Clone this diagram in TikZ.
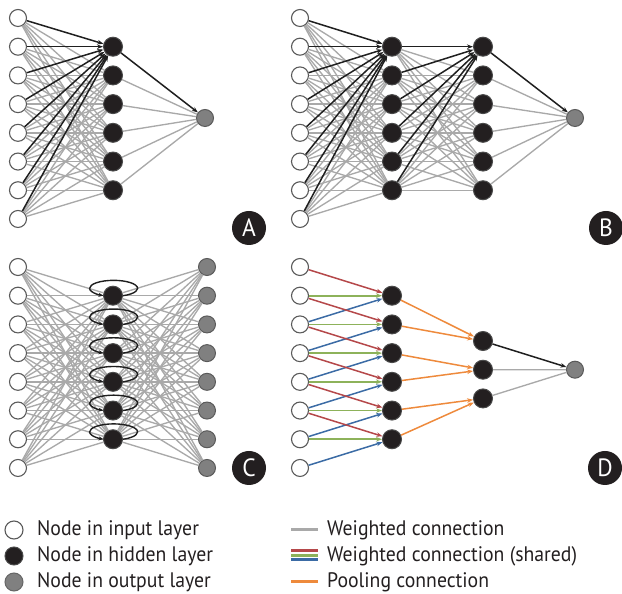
\documentclass[tikz,border=0pt]{standalone}
\usepackage{fontspec}
\setmainfont{PT Sans}[FakeStretch=0.94]
\usetikzlibrary{arrows.meta,calc}
\definecolor{nodegray}{HTML}{5A5A5A}
\definecolor{hidfill}{HTML}{231F20}
\definecolor{hidborder}{HTML}{4A4A4A}
\definecolor{outfill}{HTML}{808080}
\definecolor{conngray}{HTML}{A9A9A9}
\definecolor{cred}{HTML}{B5484A}
\definecolor{cgreen}{HTML}{8DB25A}
\definecolor{cblue}{HTML}{3B6BA5}
\definecolor{corange}{HTML}{EE8A3C}
\definecolor{txt}{HTML}{231F20}
\begin{document}
\begin{tikzpicture}[x=1pt,y=1pt,
  inp/.style={circle,draw=nodegray,fill=white,line width=1.1pt,minimum size=17pt,inner sep=0pt},
  hid/.style={circle,draw=hidborder,fill=hidfill,line width=1pt,minimum size=19pt,inner sep=0pt},
  outn/.style={circle,draw=nodegray,fill=outfill,line width=1pt,minimum size=17pt,inner sep=0pt},
  conn/.style={draw=conngray,line width=1.35pt},
  bconn/.style={draw=black!88,line width=1.5pt,-{Stealth[length=6pt,width=4.5pt]}},
  tip/.style={-{Stealth[length=6pt,width=4.5pt]}},
  lab/.style={circle,fill=hidfill,text=white,minimum size=34pt,inner sep=0pt,font=\fontsize{25}{25}\selectfont},
  loopst/.style={draw=black!88,line width=1.4pt,-{Stealth[length=5pt,width=4pt]}},
  legtext/.style={anchor=west,text=txt,font=\fontsize{21}{21}\selectfont,inner sep=0pt},
  legline/.style={line width=3pt}
]
\useasboundingbox (0,0) rectangle (622,594);
% ---------------- Panel A
\foreach \i in {0,...,7} \node[inp] (a-in-\i) at (18,{576-28.71*\i}) {};
\foreach \j in {1,...,6} \node[hid] (a-h-\j) at (113,{576-28.71*\j}) {};
\node[outn] (a-o) at (205,476) {};
\foreach \i in {0,...,7} \foreach \j in {2,...,6} \draw[conn] (a-in-\i) -- (a-h-\j);
\foreach \j in {2,...,6} \draw[conn] (a-h-\j) -- (a-o);
\foreach \i in {0,...,7} \draw[bconn] (a-in-\i) -- (a-h-1);
\draw[bconn] (a-h-1) -- (a-o);
\node[lab] (la) at (249,366) {A};
% ---------------- Panel B
\foreach \i in {0,...,7} \node[inp] (b-in-\i) at (300,{576-28.71*\i}) {};
\foreach \j in {1,...,6} \node[hid] (b-h-\j) at (392,{576-28.71*\j}) {};
\foreach \j in {1,...,6} \node[hid] (b-k-\j) at (483,{576-28.71*\j}) {};
\node[outn] (b-o) at (575,476) {};
\foreach \i in {0,...,7} \foreach \j in {2,...,6} \draw[conn] (b-in-\i) -- (b-h-\j);
\foreach \i in {1,...,6} \foreach \j in {2,...,6} \draw[conn] (b-h-\i) -- (b-k-\j);
\foreach \j in {2,...,6} \draw[conn] (b-k-\j) -- (b-o);
\foreach \i in {0,...,7} \draw[bconn] (b-in-\i) -- (b-h-1);
\foreach \i in {1,...,6} \draw[bconn] (b-h-\i) -- (b-k-1);
\draw[bconn] (b-k-1) -- (b-o);
\node[lab] (lb) at (606,366) {B};
% ---------------- Panel C
\foreach \i in {0,...,7} \node[inp] (c-in-\i) at (18,{327-28.71*\i}) {};
\foreach \j in {1,...,6} \node[hid] (c-h-\j) at (113,{327-28.71*\j}) {};
\foreach \i in {0,...,7} \node[outn] (c-o-\i) at (207,{327-28.71*\i}) {};
\foreach \i in {0,...,7} \foreach \j in {1,...,6} {
  \draw[conn] (c-in-\i) -- (c-h-\j);
  \draw[conn] (c-h-\j) -- (c-o-\i);
}
\foreach \j in {1,...,6} \draw[loopst] (c-h-\j.east) arc[start angle=-67,end angle=245,x radius=24,y radius=8];
\node[lab] (lc) at (249,126) {C};
% ---------------- Panel D
\foreach \i in {0,...,7} \node[inp] (d-in-\i) at (300,{327-28.71*\i}) {};
\foreach \j in {1,...,6} \node[hid] (d-h-\j) at (392,{327-28.71*\j}) {};
\foreach \k in {1,2,3} \node[hid] (d-p-\k) at (483,{281.7-28.71*\k}) {};
\node[outn] (d-o) at (575,224.3) {};
\foreach \j [evaluate=\j as \a using int(\j-1), evaluate=\j as \b using int(\j+1)] in {1,...,6} {
  \draw[cred,line width=1.5pt,tip] (d-in-\a) -- (d-h-\j);
  \draw[cblue,line width=1.5pt,tip] (d-in-\b) -- (d-h-\j);
}
\foreach \j in {1,...,6} \draw[cgreen,line width=1.6pt,tip] (d-in-\j) -- (d-h-\j);
\draw[corange,line width=1.5pt,tip] (d-h-1) -- (d-p-1);
\draw[corange,line width=1.5pt,tip] (d-h-2) -- (d-p-1);
\draw[corange,line width=1.5pt,tip] (d-h-3) -- (d-p-2);
\draw[corange,line width=1.5pt,tip] (d-h-4) -- (d-p-2);
\draw[corange,line width=1.5pt,tip] (d-h-5) -- (d-p-3);
\draw[corange,line width=1.5pt,tip] (d-h-6) -- (d-p-3);
\draw[conn] (d-p-2) -- (d-o);
\draw[conn] (d-p-3) -- (d-o);
\draw[bconn] (d-p-1) -- (d-o);
\node[lab] (ld) at (605,126) {D};
% ---------------- Legend
\node[inp,minimum size=18pt] (l1) at (14,64) {};
\node[hid,minimum size=18pt] (l2) at (14,38) {};
\node[outn,minimum size=18pt,draw=outfill!80!black] (l3) at (14,12) {};
\node[legtext] (t1) at (37,64) {Node in input layer};
\node[legtext] (t2) at (37,38) {Node in hidden layer};
\node[legtext] (t3) at (37,12) {Node in output layer};
\coordinate (g1a) at (291,64); \coordinate (g1b) at (318,64);
\coordinate (g2a) at (291,43); \coordinate (g2b) at (318,43);
\coordinate (g3a) at (291,38.5); \coordinate (g3b) at (318,38.5);
\coordinate (g4a) at (291,34); \coordinate (g4b) at (318,34);
\coordinate (g5a) at (291,12); \coordinate (g5b) at (318,12);
\draw[legline,conngray] (g1a) -- (g1b);
\draw[legline,cred] (g2a) -- (g2b);
\draw[legline,cgreen] (g3a) -- (g3b);
\draw[legline,cblue] (g4a) -- (g4b);
\draw[legline,corange] (g5a) -- (g5b);
\node[legtext] (t4) at (327,64) {Weighted connection};
\node[legtext] (t5) at (327,38) {Weighted connection (shared)};
\node[legtext] (t6) at (327,12) {Pooling connection};
\end{tikzpicture}
\end{document}
